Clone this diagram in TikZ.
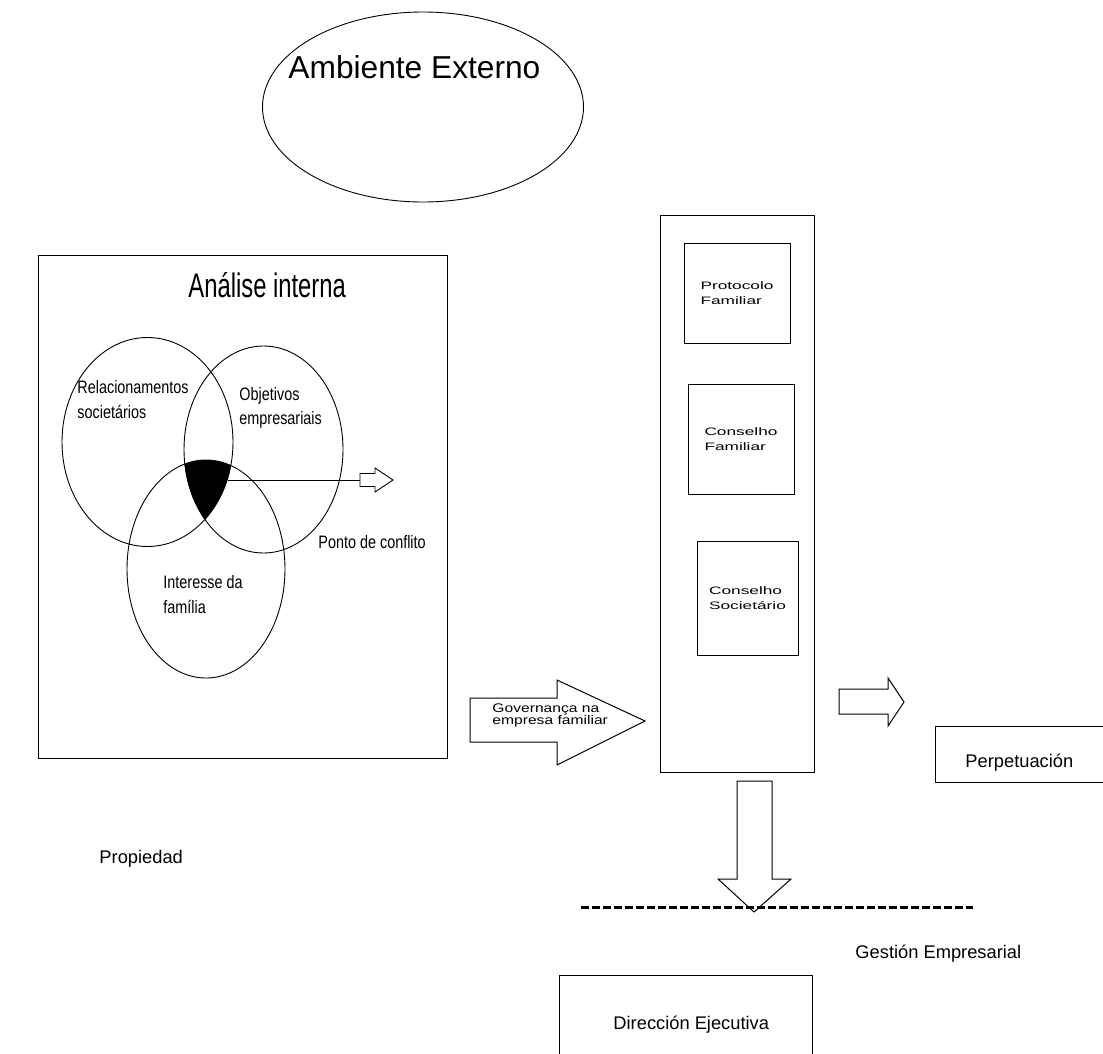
\documentclass[tikz,border=0pt]{standalone}
\usepackage{fontspec}
\setmainfont{Liberation Sans}
\newfontfamily\narrowfont[FakeStretch=0.8]{Liberation Sans}
\newfontfamily\titlefont[FakeStretch=0.7]{Liberation Sans}
\newfontfamily\boxfont[FakeStretch=1.6]{Liberation Sans}
\newfontfamily\govfont[FakeStretch=1.25]{Liberation Sans}
\usetikzlibrary{positioning,shapes.geometric}

\begin{document}
\begin{tikzpicture}[x=1pt,y=-1pt,line width=0.9pt,
  every node/.style={inner sep=0pt},
  box/.style={draw,rectangle,line width=1pt},
  vennset/.style={draw,ellipse},
  blockarrow/.style={draw,line width=1pt,line join=miter},
  lbl/.style={anchor=base west,font=\fontsize{18.3}{22}\selectfont},
  vennlbl/.style={anchor=north west,align=left,font=\narrowfont\fontsize{18}{25}\selectfont},
  council/.style={box,align=left,font=\boxfont\fontsize{10.8}{15.5}\selectfont}]
      \useasboundingbox (0,0) rectangle (1103,1053);
      \node[vennset,minimum width=321pt,minimum height=190pt] (ext) at (423,107) {};
      \node[anchor=base west,font=\fontsize{31.7}{36}\selectfont] (extlbl) at (288,78) {Ambiente Externo};
      \node[box,minimum width=409pt,minimum height=503pt] (int) at (243,506.5) {};
      \node[anchor=base west,font=\titlefont\fontsize{34}{40}\selectfont] (inttitle) at (188,297) {Análise interna};
      \begin{scope}
        \clip (147.5,442) ellipse [x radius=85.5pt,y radius=104.5pt];
        \clip (263.5,449.5) ellipse [x radius=79.5pt,y radius=103.5pt];
        \fill (206,569) ellipse [x radius=79pt,y radius=109pt];
      \end{scope}
      \node[vennset,minimum width=171pt,minimum height=209pt] (soc) at (147.5,442) {};
      \node[vennset,minimum width=159pt,minimum height=207pt] (obj) at (263.5,449.5) {};
      \node[vennset,minimum width=158pt,minimum height=218pt] (fam) at (206,569) {};
      \node[vennlbl] (soclbl) at (77,380) {Relacionamentos\\societários};
      \node[vennlbl,font=\narrowfont\fontsize{18}{24}\selectfont] (objlbl) at (239,387) {Objetivos\\empresariais};
      \node[vennlbl] (famlbl) at (163,575) {Interesse da\\família};
      \node[anchor=base west,font=\narrowfont\fontsize{18}{25}\selectfont] (conflbl) at (318,548) {Ponto de conflito};
      \coordinate (core) at (228,480);
      \coordinate (confarrow) at (360,480);
      \draw (core) -- (confarrow);
      \draw[blockarrow,line width=0.9pt] (360,473.5) -- (375,473.5) -- (375,468) -- (393,480) -- (375,492) -- (375,486.5) -- (360,486.5) -- cycle;
      \draw[blockarrow] (470,698) -- (557,698) -- (557,680) -- (645,721) -- (557,765) -- (557,742) -- (470,742) -- cycle;
      \node[anchor=north west,align=left,font=\govfont\fontsize{12.5}{12.7}\selectfont] (govlbl) at (492,703) {Governança na\\empresa familiar};
      \node[box,minimum width=154pt,minimum height=557pt] (gov) at (737,493.5) {};
      \node[council,minimum width=106pt,minimum height=100pt] (proto) at (737,293) {Protocolo\\Familiar};
      \node[council,minimum width=106pt,minimum height=110pt] (cfam) at (741,439) {Conselho\\Familiar};
      \node[council,minimum width=101pt,minimum height=114pt] (csoc) at (747.5,598) {Conselho\\Societário};
      \draw[blockarrow] (839,689) -- (888,689) -- (888,678) -- (904,702) -- (888,726) -- (888,714) -- (839,714) -- cycle;
      \node[box,minimum width=170pt,minimum height=56pt] (perp) at (1020,754) {};
      \node[lbl] (perplbl) at (965,767) {Perpetuación};
      \draw[blockarrow] (737,781) -- (772,781) -- (772,879) -- (791,879) -- (754,912) -- (718,879) -- (737,879) -- cycle;
      \coordinate (dashl) at (581,907);
      \coordinate (dashr) at (973,907);
      \draw[line width=3pt,dash pattern=on 8pt off 3pt] (dashl) -- (dashr);
      \node[lbl] (gestlbl) at (855,958) {Gestión Empresarial};
      \node[box,minimum width=253pt,minimum height=100pt] (dir) at (685.5,1025) {};
      \node[lbl] (dirlbl) at (613,1029) {Dirección Ejecutiva};
      \node[lbl] (proplbl) at (99,863) {Propiedad};
    \end{tikzpicture}
\end{document}
